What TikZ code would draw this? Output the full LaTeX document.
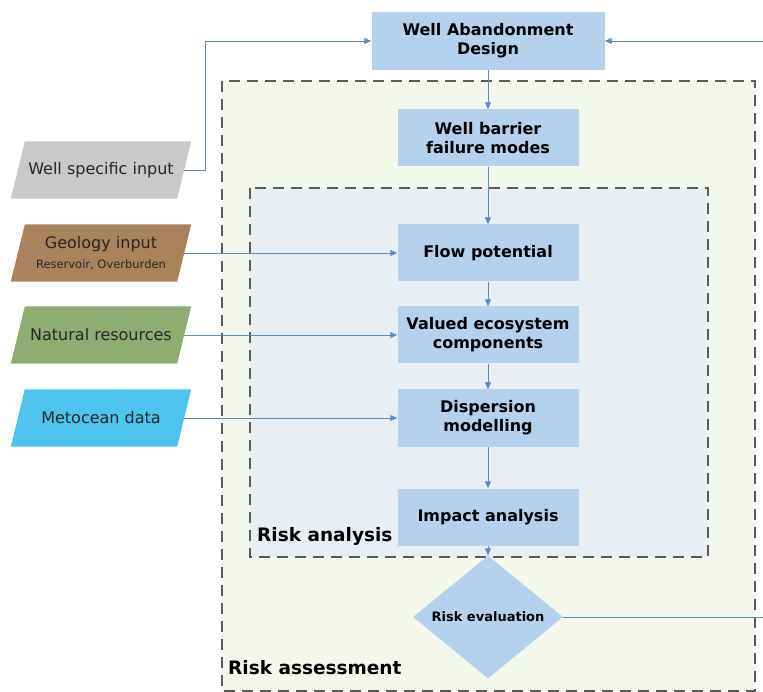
\documentclass[tikz,border=0pt]{standalone}
\usepackage{fontspec}
\setmainfont{DejaVu Sans}
\usetikzlibrary{shapes.geometric,arrows.meta,calc,backgrounds}
\definecolor{boxblue}{HTML}{B6D1EC}
\definecolor{arrowblue}{HTML}{5A8CC4}
\definecolor{framegray}{HTML}{5A5A5A}
\definecolor{outerfill}{HTML}{F3F7EC}
\definecolor{innerfill}{HTML}{E8EEF1}
\definecolor{wellgray}{HTML}{C9C9C9}
\definecolor{geobrown}{HTML}{A9835C}
\definecolor{natgreen}{HTML}{8FAC72}
\definecolor{metcyan}{HTML}{4EC3EF}
\begin{document}
\begin{tikzpicture}[x=1pt,y=-1pt,
  stepbox/.style={fill=boxblue, minimum width=181pt, minimum height=57pt,
    inner sep=2pt, align=center, font=\bfseries\fontsize{16}{19}\selectfont},
  inbox/.style={minimum width=166pt, minimum height=57pt,
    inner sep=0pt, align=center, text=black!85, font=\fontsize{16}{19}\selectfont},
  slantfill/.style={fill=#1},
  flow/.style={draw=arrowblue, line width=0.9pt, -{Triangle[length=7pt,width=6pt]}},
  frame/.style={draw=framegray, line width=1.2pt, dash pattern=on 11pt off 7pt},
  title/.style={anchor=base west, inner sep=0pt, font=\bfseries\fontsize{18.5}{20}\selectfont},
]
\useasboundingbox (0,0) rectangle (763,692);
\clip (0,0) rectangle (763,692);

% nested assessment / analysis frames
\path[frame, fill=outerfill] (222,81) rectangle (755,691);
\path[frame, fill=innerfill] (250,188) rectangle (708,557);

% main process chain
\node[stepbox, minimum width=233pt, minimum height=58pt] (wad) at (488,41) {Well Abandonment\\Design};
\node[stepbox] (wbf) at (488,138) {Well barrier\\failure modes};
\node[stepbox] (flp) at (488,253) {Flow potential};
\node[stepbox] (vec) at (488,335) {Valued ecosystem\\components};
\node[stepbox] (dsp) at (488,418) {Dispersion\\modelling};
\node[stepbox] (imp) at (488,517) {Impact analysis};
\node[diamond, fill=boxblue, minimum width=150pt, minimum height=117pt, inner sep=0pt,
  font=\bfseries\fontsize{13}{15}\selectfont] (rev) at (488,617) {Risk evaluation};

% frame titles
\node[title] (ratitle) at (257,541) {Risk analysis};
\node[title] (rstitle) at (228,674) {Risk assessment};

% input data (text nodes, slanted data shapes behind them)
\node[inbox] (wsi) at (101,170) {Well specific input};
\node[inbox] (geo) at (101,253) {Geology input\\[1pt]{\fontsize{11.5}{13}\selectfont Reservoir, Overburden}};
\node[inbox] (nat) at (101,335) {Natural resources};
\node[inbox] (met) at (101,418) {Metocean data};
\begin{pgfonlayer}{background}
  \foreach \n/\c in {wsi/wellgray, geo/geobrown, nat/natgreen, met/metcyan}
    \fill[\c] ($(\n.south west)+(-7,0)$) -- ($(\n.north west)+(7,0)$)
      -- ($(\n.north east)+(7,0)$) -- ($(\n.south east)+(-7,0)$) -- cycle;
\end{pgfonlayer}

% connectors
\draw[flow] (wsi.east) -- (205,170) |- (wad.west);
\draw[flow] (geo.east) -- (flp.west);
\draw[flow] (nat.east) -- (vec.west);
\draw[flow] (met.east) -- (dsp.west);
\draw[flow] (wad) -- (wbf);
\draw[flow] (wbf) -- (flp);
\draw[flow] (flp) -- (vec);
\draw[flow] (vec) -- (dsp);
\draw[flow] (dsp) -- (imp);
\draw[flow] (imp) -- (rev);
\draw[flow] (rev.east) -- ++(240,0) |- (wad.east);
\end{tikzpicture}
\end{document}
